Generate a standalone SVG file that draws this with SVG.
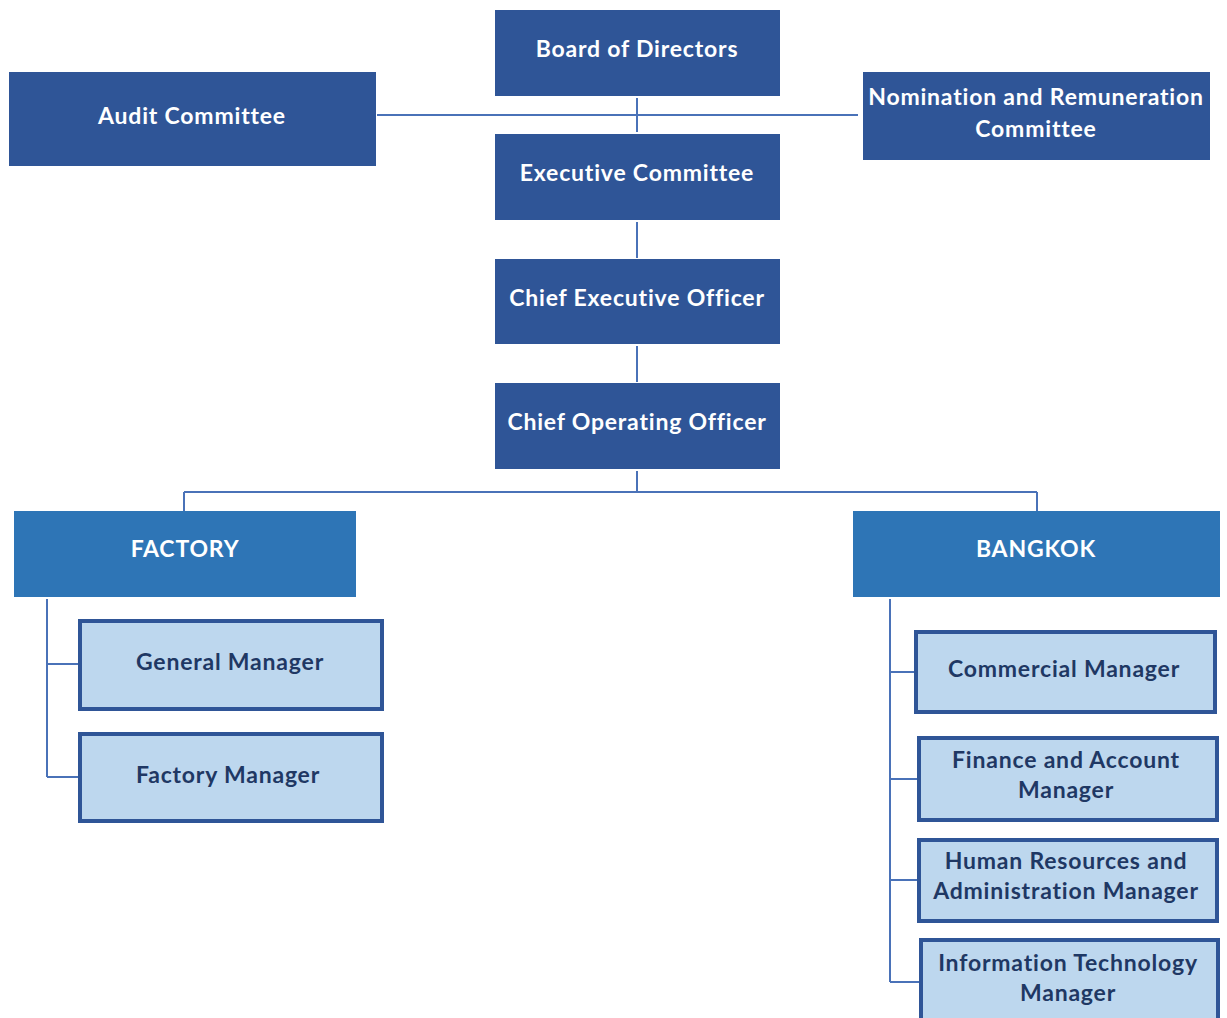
<svg xmlns="http://www.w3.org/2000/svg" width="1227" height="1018" viewBox="0 0 1227 1018">
<style>
.dk{fill:#2F5597}
.md{fill:#2E75B6}
.lt{fill:#BDD7EE;stroke:#2F5597;stroke-width:4}
text{font-family:Lato,"Open Sans","Liberation Sans",sans-serif;font-weight:bold;font-size:23px;letter-spacing:0.8px;text-anchor:middle}
.w{fill:#FFFFFF}
.n{fill:#1F3864}
.c{fill:none;stroke:#4A72B8;stroke-width:2}
</style>
<rect width="1227" height="1018" fill="#FFFFFF"/>
<g id="connectors">
<path class="c" d="M377 115H858M637 98V132M637 222V258M637 346V382M637 471V492M184 492H1037M184 492V511M1037 492V511"/>
<path class="c" d="M47 599V777M47 664H79M47 777H79"/>
<path class="c" d="M890 599V982M890 672H914M890 779H917M890 880H917M890 982H919"/>
</g>
<g id="board"><rect class="dk" x="495" y="10" width="285" height="86"/><text class="w" x="637" y="57">Board of Directors</text></g>
<g id="audit"><rect class="dk" x="9" y="72" width="367" height="94"/><text class="w" x="192" y="124">Audit Committee</text></g>
<g id="nomination"><rect class="dk" x="863" y="72" width="347" height="88"/><text class="w" x="1036" y="105">Nomination and Remuneration</text><text class="w" x="1036" y="137">Committee</text></g>
<g id="exec"><rect class="dk" x="495" y="134" width="285" height="86"/><text class="w" x="637" y="181">Executive Committee</text></g>
<g id="ceo"><rect class="dk" x="495" y="259" width="285" height="85"/><text class="w" x="637" y="306">Chief Executive Officer</text></g>
<g id="coo"><rect class="dk" x="495" y="383" width="285" height="86"/><text class="w" x="637" y="430">Chief Operating Officer</text></g>
<g id="factory"><rect class="md" x="14" y="511" width="342" height="86"/><text class="w" x="185" y="557">FACTORY</text></g>
<g id="bangkok"><rect class="md" x="853" y="511" width="367" height="86"/><text class="w" x="1036" y="557">BANGKOK</text></g>
<g id="gm"><rect class="lt" x="80" y="621" width="302" height="88"/><text class="n" x="230" y="670">General Manager</text></g>
<g id="fm"><rect class="lt" x="80" y="734" width="302" height="87"/><text class="n" x="228" y="783">Factory Manager</text></g>
<g id="cm"><rect class="lt" x="916" y="632" width="299" height="80"/><text class="n" x="1064" y="677">Commercial Manager</text></g>
<g id="fin"><rect class="lt" x="919" y="738" width="298" height="82"/><text class="n" x="1066" y="768">Finance and Account</text><text class="n" x="1066" y="798">Manager</text></g>
<g id="hr"><rect class="lt" x="919" y="840" width="298" height="81"/><text class="n" x="1066" y="869">Human Resources and</text><text class="n" x="1066" y="899">Administration Manager</text></g>
<g id="it"><rect class="lt" x="921" y="940" width="297" height="90"/><text class="n" x="1068" y="971">Information Technology</text><text class="n" x="1068" y="1001">Manager</text></g>
</svg>
